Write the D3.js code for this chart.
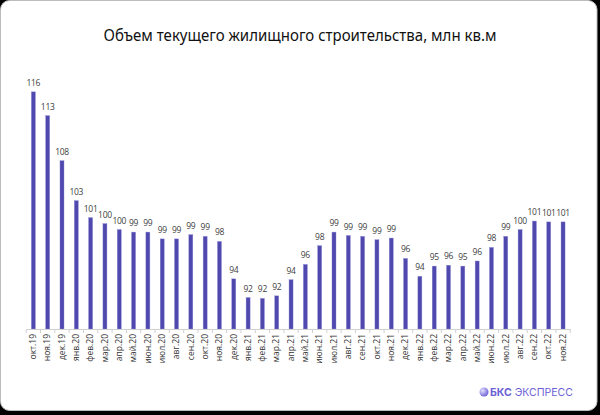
<!DOCTYPE html>
<html><head><meta charset="utf-8">
<script src="https://cdn.jsdelivr.net/npm/d3@7"></script>
<style>html,body{margin:0;padding:0;background:#000;}svg{display:block;}</style>
</head><body>
<script>
const categories = ["окт.19","ноя.19","дек.19","янв.20","фев.20","мар.20","апр.20","май.20","июн.20","июл.20","авг.20","сен.20","окт.20","ноя.20","дек.20","янв.21","фев.21","мар.21","апр.21","май.21","июн.21","июл.21","авг.21","сен.21","окт.21","ноя.21","дек.21","янв.22","фев.22","мар.22","апр.22","май.22","июн.22","июл.22","авг.22","сен.22","окт.22","ноя.22"];
const values = [115.9,113.1,107.8,103.1,101.1,100.4,99.7,99.4,99.4,98.6,98.6,99.1,98.9,98.3,93.9,91.7,91.6,91.9,93.8,95.6,97.8,99.4,99.0,98.9,98.5,98.7,96.3,94.2,95.4,95.5,95.4,96.0,97.6,98.9,99.7,100.7,100.6,100.6];
const labels = ["116","113","108","103","101","100","100","99","99","99","99","99","99","98","94","92","92","92","94","96","98","99","99","99","99","99","96","94","95","96","95","96","98","99","100","101","101","101"];
const title = "Объем текущего жилищного строительства, млн кв.м";

const W = 600, H = 415;
const svg = d3.select("body").append("svg").attr("width", W).attr("height", H);
svg.append("rect").attr("width", W).attr("height", H).attr("fill", "#000");
svg.append("rect").attr("x", 0.5).attr("y", 0.5).attr("width", 596.5).attr("height", 410)
  .attr("rx", 9).attr("fill", "#fff").attr("stroke", "#bdbdbd");

svg.append("text").attr("x", 300).attr("y", 41).attr("text-anchor", "middle")
  .attr("font-family", "'Noto Sans', sans-serif").attr("font-size", 16).attr("fill", "#111")
  .attr("textLength", 393).attr("lengthAdjust", "spacingAndGlyphs").text(title);

const x = d3.scaleBand().domain(categories).range([26.2, 570.2]).paddingInner(0.72).paddingOuter(0.36);
const y = d3.scaleLinear().domain([88, 116]).range([329, 91]);

const g = svg.append("g");
g.selectAll("rect.bar").data(categories).join("rect").attr("class", "bar")
  .attr("x", d => x(d)).attr("width", x.bandwidth())
  .attr("y", (d, i) => y(values[i])).attr("height", (d, i) => y.range()[0] - y(values[i]))
  .attr("fill", "#4f48ad").attr("stroke", "#8e88d6").attr("stroke-width", 0.4);

g.selectAll("text.val").data(categories).join("text").attr("class", "val")
  .attr("x", d => x(d) + x.bandwidth() / 2).attr("y", (d, i) => y(values[i]) - 6)
  .attr("text-anchor", "middle").attr("font-family", "'Open Sans', sans-serif")
  .attr("font-size", 8.5).attr("letter-spacing", -0.3).attr("fill", "#404040").text((d, i) => labels[i]);

const ax = svg.append("g").attr("transform", `translate(0,${y.range()[0]})`)
  .call(d3.axisBottom(x).tickSize(0).tickPadding(5));
ax.select(".domain").attr("stroke", "#d0d0d0");
ax.selectAll(".tick text").attr("transform", "rotate(-90)").attr("text-anchor", "end")
  .attr("x", -5).attr("y", 0).attr("dy", "0.32em")
  .attr("font-family", "'Open Sans', sans-serif").attr("font-size", 8.5).attr("fill", "#333");
svg.append("g").selectAll("line").data(categories.concat(["_end"])).join("line")
  .attr("x1", (d, i) => (i < categories.length ? x(d) : x(categories[categories.length - 1]) + x.step()) + x.bandwidth() / 2 - x.step() / 2)
  .attr("x2", (d, i) => (i < categories.length ? x(d) : x(categories[categories.length - 1]) + x.step()) + x.bandwidth() / 2 - x.step() / 2)
  .attr("y1", y.range()[0]).attr("y2", y.range()[0] + 4).attr("stroke", "#d0d0d0");

// logo
const defs = svg.append("defs");
const grad = defs.append("radialGradient").attr("id", "lg").attr("cx", "35%").attr("cy", "35%").attr("r", "70%");
grad.append("stop").attr("offset", "0%").attr("stop-color", "#e6e2ff");
grad.append("stop").attr("offset", "100%").attr("stop-color", "#6b5fd6");
svg.append("circle").attr("cx", 484).attr("cy", 392).attr("r", 4.5).attr("fill", "url(#lg)");
const lt = svg.append("text").attr("x", 490).attr("y", 396).attr("font-family", "'Inter', sans-serif")
  .attr("font-size", 10.5).attr("fill", "#6b5fd6");
lt.append("tspan").attr("font-weight", "bold").text("БКС");
lt.append("tspan").attr("dx", 3).text("ЭКСПРЕСС");
</script>
</body></html>
